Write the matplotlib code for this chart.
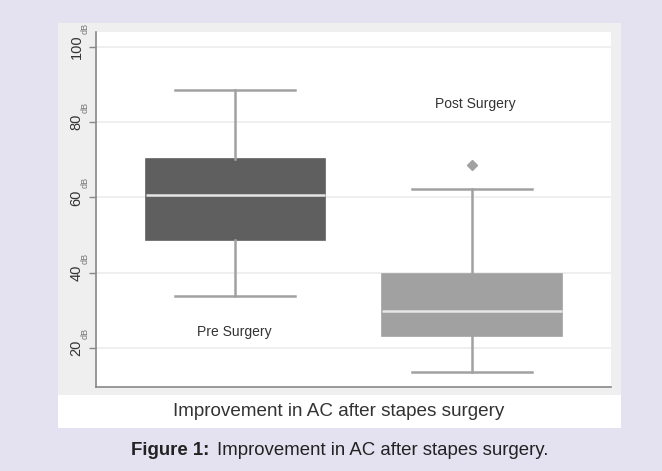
import matplotlib.pyplot as plt
from matplotlib.patches import Rectangle

plt.rcParams['font.family'] = ['Liberation Sans', 'DejaVu Sans']

# box summary values (dB)
groups = ['Pre Surgery', 'Post Surgery']
whis_low = [33.8, 13.6]
q1 = [48.7, 23.1]
median = [60.6, 29.8]
q3 = [70.2, 39.6]
whis_high = [88.6, 62.2]
outliers = [[], [68.6]]
box_colors = ['#5f5f5f', '#a1a1a1']
yticks = [20, 40, 60, 80, 100]

fig = plt.figure(figsize=(6.62, 4.71), dpi=100)
fig.patch.set_facecolor('#e4e2f0')

# light grey panel and white title strip behind the axes
fig.patches.append(Rectangle((0.0876, 0.1614), 0.8505, 0.7897, transform=fig.transFigure,
                             facecolor='#efefef', edgecolor='none', zorder=-5))
fig.patches.append(Rectangle((0.0876, 0.0913), 0.8505, 0.0701, transform=fig.transFigure,
                             facecolor='white', edgecolor='none', zorder=-5))

ax = fig.add_axes([0.145, 0.1783, 0.778, 0.7537])
ax.set_facecolor('white')

stats = []
for i in range(len(groups)):
    stats.append(dict(whislo=whis_low[i], q1=q1[i], med=median[i], q3=q3[i],
                      whishi=whis_high[i], fliers=outliers[i]))

bp = ax.bxp(stats, positions=[1, 2], widths=0.756, patch_artist=True,
            showfliers=True,
            boxprops=dict(linewidth=1.2),
            medianprops=dict(color='#e6e6e6', linewidth=1.8),
            whiskerprops=dict(color='#a1a1a1', linewidth=1.8),
            capprops=dict(color='#a1a1a1', linewidth=1.8),
            capwidths=0.507,
            flierprops=dict(marker='D', markerfacecolor='#a1a1a1',
                            markeredgecolor='#a1a1a1', markersize=5))
for patch, c in zip(bp['boxes'], box_colors):
    patch.set_facecolor(c)
    patch.set_edgecolor(c)

ax.set_xlim(0.413, 2.587)
ax.set_ylim(9.6, 104)
ax.set_yticks(yticks)
ax.set_yticklabels([str(t) for t in yticks], rotation=90, va='center',
                   fontsize=10.5, color='#333333')
ax.set_xticks([])
ax.yaxis.grid(True, color='#ececec', linewidth=1.2)
ax.set_axisbelow(True)
ax.tick_params(axis='y', length=5, color='#888888', width=1, pad=4)
for s in ['top', 'right']:
    ax.spines[s].set_visible(False)
ax.spines['left'].set_color('#888888')
ax.spines['bottom'].set_color('#888888')
ax.spines['left'].set_linewidth(1.2)
ax.spines['bottom'].set_linewidth(1.2)

# small "dB" unit after each tick number
for t in yticks:
    half = len(str(t)) * 4.1
    ax.annotate('dB', xy=(-11 / 515, t), xycoords=ax.get_yaxis_transform(),
                xytext=(0, half + 1), textcoords='offset pixels',
                rotation=90, ha='center', va='bottom', fontsize=6.5, color='#777777',
                annotation_clip=False)

ax.text(2.013, 84.85, 'Post Surgery', ha='center', va='center', fontsize=10, color='#333333')
ax.text(0.996, 24.25, 'Pre Surgery', ha='center', va='center', fontsize=10, color='#333333')

fig.text(0.512, 0.127, 'Improvement in AC after stapes surgery', ha='center', va='center',
         fontsize=13.6, color='#333333')
fig.text(131 / 662, 0.0425, 'Figure 1:', ha='left', va='center', fontsize=13.4,
         fontweight='bold', color='#222222')
fig.text(217 / 662, 0.0425, 'Improvement in AC after stapes surgery.', ha='left', va='center',
         fontsize=13.4, color='#222222')

fig.savefig('out.png', dpi=100, facecolor=fig.get_facecolor())
